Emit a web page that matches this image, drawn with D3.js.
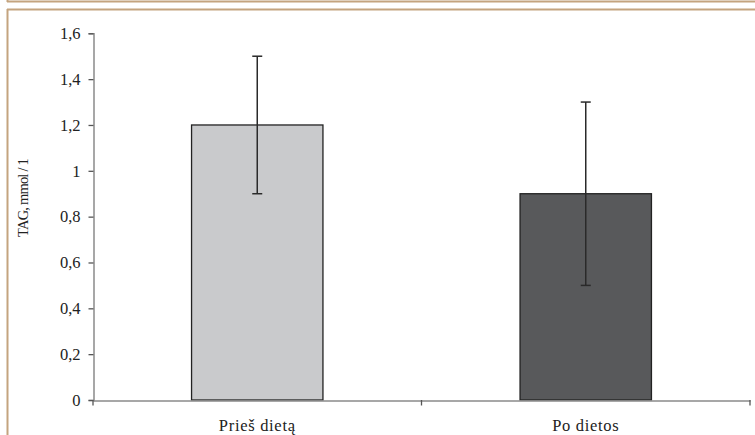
<!DOCTYPE html>
<html><head><meta charset="utf-8">
<script src="https://cdn.jsdelivr.net/npm/d3@7"></script>
<style>html,body{margin:0;padding:0;background:#fff;}svg{display:block;}</style>
</head><body>
<svg id="c" width="755" height="435"></svg>
<script>
const categories = ["Prieš dietą", "Po dietos"];
const values = [1.2, 0.9];
const errLow = [0.9, 0.5];
const errHigh = [1.5, 1.3];
const yTicks = [0, 0.2, 0.4, 0.6, 0.8, 1, 1.2, 1.4, 1.6];
const fills = ["#c9cacc", "#58595b"];
const yTitle = "TAG, mmol / 1";

const svg = d3.select("#c");
const font = "'Liberation Serif', 'Times New Roman', serif";

// frame (page decoration)
const frame = "#c4a47f";
svg.append("line").attr("x1", 7).attr("x2", 755).attr("y1", 1.5).attr("y2", 1.5).attr("stroke", frame).attr("stroke-width", 2);
svg.append("line").attr("x1", 7.5).attr("x2", 7.5).attr("y1", 0).attr("y2", 2).attr("stroke", frame).attr("stroke-width", 2);
svg.append("line").attr("x1", 7).attr("x2", 755).attr("y1", 9.5).attr("y2", 9.5).attr("stroke", frame).attr("stroke-width", 2);
svg.append("line").attr("x1", 7.5).attr("x2", 7.5).attr("y1", 9).attr("y2", 435).attr("stroke", frame).attr("stroke-width", 2);

const x = d3.scaleBand().domain(categories).range([93, 750]).paddingInner(0).paddingOuter(0);
const y = d3.scaleLinear().domain([0, 1.6]).range([400, 33.3]);
const fmt = d => String(d).replace(".", ",");

// Y axis
const yAxis = svg.append("g").attr("transform", "translate(93.5,0)")
  .call(d3.axisLeft(y).tickValues(yTicks).tickFormat(fmt).tickSize(5).tickPadding(8));
yAxis.select(".domain").attr("stroke", "#8a8a8a").attr("stroke-width", 1.5);
yAxis.selectAll(".tick line").attr("stroke", "#555").attr("stroke-width", 1.3);
yAxis.selectAll("text").attr("font-family", font).attr("font-size", 16.5).attr("fill", "#222");

// bars
const bw = x.bandwidth() * 0.4;
svg.selectAll("rect.bar").data(categories).enter().append("rect")
  .attr("class", "bar")
  .attr("x", d => x(d) + x.bandwidth() / 2 - bw / 2)
  .attr("y", (d, i) => y(values[i]))
  .attr("width", bw)
  .attr("height", (d, i) => y(0) - y(values[i]))
  .attr("fill", (d, i) => fills[i])
  .attr("stroke", "#222").attr("stroke-width", 1.3);

// X axis
const xAxis = svg.append("g").attr("transform", "translate(0,400.5)")
  .call(d3.axisBottom(x).tickSize(0).tickPadding(19));
xAxis.select(".domain").attr("stroke", "#8a8a8a").attr("stroke-width", 1.5);
xAxis.selectAll("text").attr("font-family", font).attr("font-size", 16.5)
  .attr("letter-spacing", 0.7).attr("fill", "#222");
// category boundary ticks
const bounds = [x(categories[0]), x(categories[1]), x(categories[1]) + x.bandwidth()];
svg.selectAll("line.xb").data(bounds).enter().append("line")
  .attr("x1", d => d).attr("x2", d => d).attr("y1", 400).attr("y2", 405.5)
  .attr("stroke", "#555").attr("stroke-width", 1.3);

// error bars
const cap = 5;
categories.forEach((c, i) => {
  const cx = x(c) + x.bandwidth() / 2;
  const g = svg.append("g").attr("stroke", "#2a2a2a").attr("stroke-width", 1.5);
  g.append("line").attr("x1", cx).attr("x2", cx).attr("y1", y(errLow[i])).attr("y2", y(errHigh[i]));
  g.append("line").attr("x1", cx - cap).attr("x2", cx + cap).attr("y1", y(errHigh[i])).attr("y2", y(errHigh[i]));
  g.append("line").attr("x1", cx - cap).attr("x2", cx + cap).attr("y1", y(errLow[i])).attr("y2", y(errLow[i]));
});

// Y title
svg.append("text").attr("transform", "translate(27.5,198) rotate(-90)")
  .attr("text-anchor", "middle").attr("font-family", font).attr("font-size", 14.5)
  .attr("letter-spacing", -0.8).attr("fill", "#222")
  .text(yTitle);
</script>
</body></html>
